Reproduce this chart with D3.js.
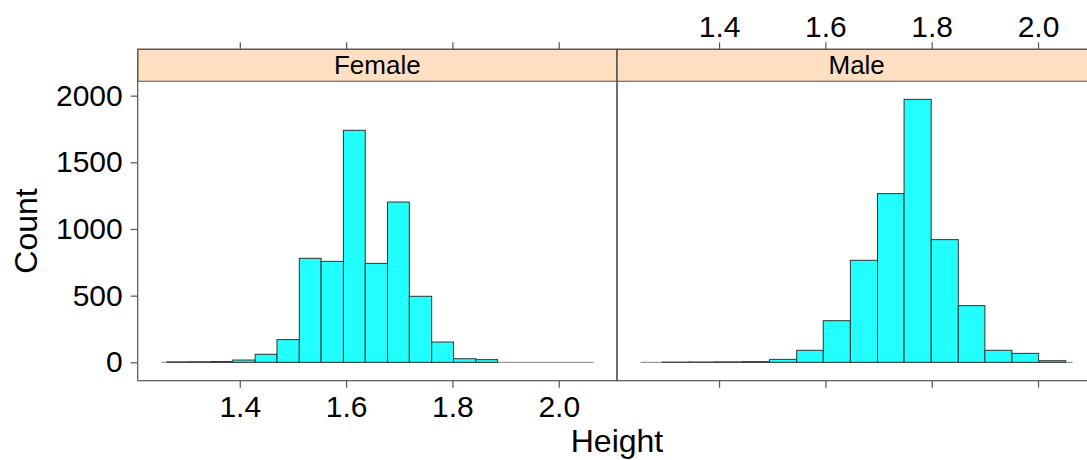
<!DOCTYPE html>
<html><head><meta charset="utf-8">
<script src="https://cdn.jsdelivr.net/npm/d3@7"></script>
<style>
html,body{margin:0;padding:0;background:#fff;}
text{font-family:"Liberation Sans",Arial,sans-serif;fill:#000;}
</style></head>
<body><svg id="c" width="1087" height="460"></svg>
<script>
const panels = ["Female", "Male"];
const femaleBreaks = [1.263, 1.304, 1.346, 1.387, 1.429, 1.470, 1.512, 1.553, 1.595, 1.636, 1.678, 1.719, 1.761, 1.802, 1.844, 1.885];
const femaleCounts = [3, 4, 6, 17, 60, 170, 780, 757, 1740, 742, 1202, 495, 152, 27, 20];
const maleBreaks = [1.293, 1.343, 1.394, 1.445, 1.495, 1.546, 1.596, 1.647, 1.698, 1.748, 1.799, 1.850, 1.900, 1.951, 2.001, 2.052];
const maleCounts = [1, 2, 3, 5, 22, 90, 312, 765, 1265, 1972, 920, 425, 90, 67, 12];
const baselineRange = [1.2525, 2.065];
const xTicks = [1.4, 1.6, 1.8, 2.0];
const yTicks = [0, 500, 1000, 1500, 2000];
const xDomain = [1.208, 2.1096];
const yDomain = [-138, 2107.5];
const xLabel = "Height", yLabel = "Count";

const svg = d3.select("#c");
const panelW = 479.3, left0 = 137.7;
const stripTop = 49.3, stripBot = 81.3, panelBot = 380.7;
const data = {Female: {b: femaleBreaks, c: femaleCounts}, Male: {b: maleBreaks, c: maleCounts}};

const y = d3.scaleLinear().domain(yDomain).range([panelBot, stripBot]);
const axisCol = "#555";

panels.forEach((p, i) => {
  const x0 = left0 + i * panelW;
  const x = d3.scaleLinear().domain(xDomain).range([x0, x0 + panelW]);
  const g = svg.append("g");
  g.append("line").attr("x1", x(baselineRange[0])).attr("x2", x(baselineRange[1]))
    .attr("y1", y(0)).attr("y2", y(0)).attr("stroke", "#999").attr("stroke-width", 1.2);
  const d = data[p];
  const bins = d.c.map((v, k) => ({x0: d.b[k], x1: d.b[k + 1], v}));
  g.selectAll("rect.bar").data(bins).join("rect").attr("class", "bar")
    .attr("x", b => x(b.x0)).attr("width", b => x(b.x1) - x(b.x0))
    .attr("y", b => y(b.v)).attr("height", b => y(0) - y(b.v))
    .attr("fill", "#22ffff").attr("stroke", "#333").attr("stroke-width", 1);
  g.append("rect").attr("x", x0).attr("y", stripTop).attr("width", panelW).attr("height", stripBot - stripTop)
    .attr("fill", "#ffdfc2").attr("stroke", "#7a6a5a").attr("stroke-width", 1.2);
  g.append("text").attr("x", x0 + panelW / 2).attr("y", 74.3).attr("text-anchor", "middle")
    .attr("font-size", 26).text(p);
  g.append("rect").attr("x", x0).attr("y", stripTop).attr("width", panelW).attr("height", panelBot - stripTop)
    .attr("fill", "none").attr("stroke", axisCol).attr("stroke-width", 1.2);
  const top = d3.axisTop(x).tickValues(xTicks).tickSizeOuter(0).tickSizeInner(7).tickPadding(5)
    .tickFormat(d3.format(".1f"));
  const ta = g.append("g").attr("transform", `translate(0,${stripTop})`).call(top);
  const bot = d3.axisBottom(x).tickValues(xTicks).tickSizeOuter(0).tickSizeInner(7).tickPadding(8)
    .tickFormat(d3.format(".1f"));
  const ba = g.append("g").attr("transform", `translate(0,${panelBot})`).call(bot);
  [ta, ba].forEach(a => {
    a.select(".domain").remove();
    a.selectAll("line").attr("stroke", axisCol).attr("stroke-width", 1.2);
    a.selectAll("text").attr("font-size", 30).attr("font-family", "Liberation Sans, Arial, sans-serif").attr("fill", "#000");
  });
  if (i === 0) ta.selectAll("text").remove(); else ba.selectAll("text").remove();
});

const ya = svg.append("g").attr("transform", `translate(${left0},0)`)
  .call(d3.axisLeft(y).tickValues(yTicks).tickSizeOuter(0).tickSizeInner(7).tickPadding(8).tickFormat(d3.format("d")));
ya.select(".domain").remove();
ya.selectAll("line").attr("stroke", axisCol).attr("stroke-width", 1.2);
ya.selectAll("text").attr("font-size", 30).attr("font-family", "Liberation Sans, Arial, sans-serif").attr("fill", "#000");

svg.append("text").attr("x", 617).attr("y", 452).attr("text-anchor", "middle").attr("font-size", 32).text(xLabel);
svg.append("text").attr("transform", `translate(36.7,${(stripBot + panelBot) / 2}) rotate(-90)`)
  .attr("text-anchor", "middle").attr("font-size", 32).text(yLabel);
</script></body></html>
